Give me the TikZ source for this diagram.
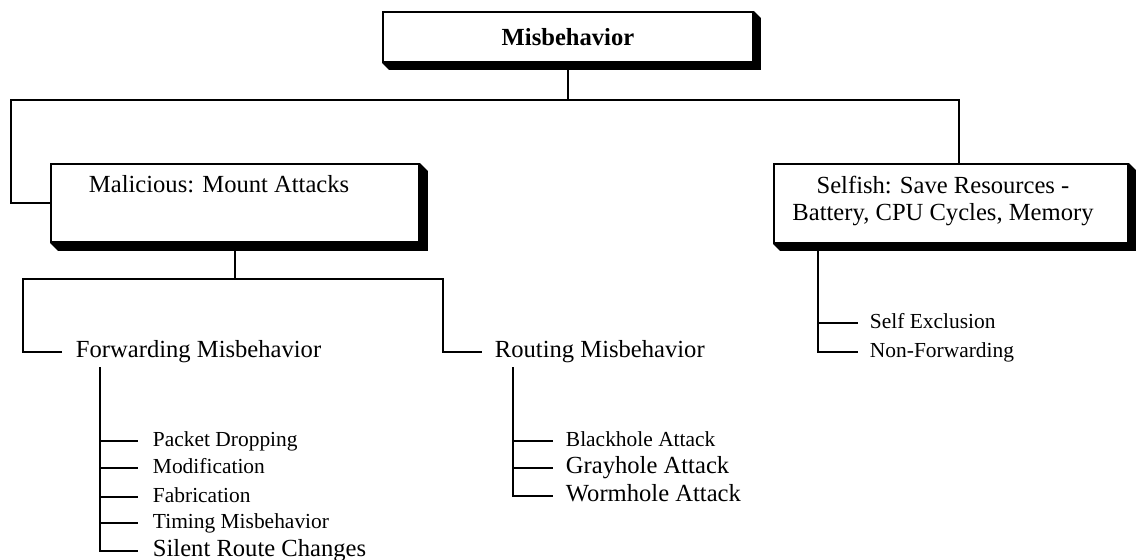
\documentclass[tikz,border=0pt]{standalone}
\usepackage{fontspec}
\setmainfont{Liberation Serif}
\usetikzlibrary{positioning}

\begin{document}
\begin{tikzpicture}[x=0.02cm, y=-0.02cm, line width=1.1pt]
    \tikzstyle{box} = [draw, fill=white, inner sep=0pt]
    \tikzstyle{lbl} = [inner sep=0pt, anchor=west, text height=1.5ex, text depth=.25ex,
                       font=\fontsize{14}{16}\selectfont]
    \tikzstyle{leaf} = [lbl, font=\fontsize{12.2}{14}\selectfont]
    \useasboundingbox (0,0) rectangle (1136,559);

    % boxes
    \node[box, minimum width=7.4cm, minimum height=1cm,
          font=\fontsize{14}{16}\selectfont\bfseries] (misb) at (568,37) {Misbehavior};
    \node[box, anchor=north west, minimum width=7.36cm, minimum height=1.56cm] (mal) at (50,163) {};
    \node[box, anchor=north west, minimum width=7.08cm, minimum height=1.58cm] (self) at (773,163) {};
    \foreach \b/\s in {misb/7, mal/8, self/7}
      \fill (\b.north east) -- ++(\s,\s) -- ([shift={(\s,\s)}]\b.south east)
        -- ([shift={(\s,\s)}]\b.south west) -- (\b.south west) -- (\b.south east) -- cycle;
    \node[lbl] (maltxt) at (88,187) {Malicious: Mount Attacks};
    \node[inner sep=0pt, align=center, font=\fontsize{14}{15.4}\selectfont] (selftxt) at (943,201)
      {Selfish: Save Resources -\\Battery, CPU Cycles, Memory};

    % top level
    \coordinate (hubL) at (11,100);
    \coordinate (hubR) at (959,100);
    \draw (misb.south) -- (misb.south |- hubL);
    \draw (mal.west) -| (hubL) -- (hubR) -- (hubR |- self.north);

    % malicious
    \node[lbl] (fwd) at (75,352) {Forwarding Misbehavior};
    \node[lbl] (rout) at (494,352) {Routing Misbehavior};
    \coordinate (malout) at (235,241);
    \coordinate (forkL) at (23,279);
    \coordinate (forkR) at (443,279);
    \draw (malout) -- (malout |- forkL);
    \draw ([xshift=-0.26cm]fwd.west) -| (forkL) -- (forkR) |- ([xshift=-0.24cm]rout.west);

    \coordinate (fwdtrunk) at (100,367);
    \foreach \y/\t/\n/\s in {441/Packet Dropping/pd/leaf, 468/Modification/mod/leaf,
        497/Fabrication/fab/leaf, 523/Timing Misbehavior/tim/leaf,
        551/Silent Route Changes/src/lbl} {
      \node[\s] (\n) at (152,\y) {\t};
      \draw (fwdtrunk) |- ([xshift=-0.28cm]\n.west);
    }

    \coordinate (routtrunk) at (513,367);
    \foreach \y/\t/\n/\s in {441/Blackhole Attack/bh/leaf, 468/Grayhole Attack/gh/lbl,
        496/Wormhole Attack/wh/lbl} {
      \node[\s] (\n) at (565,\y) {\t};
      \draw (routtrunk) |- ([xshift=-0.24cm]\n.west);
    }

    % selfish
    \coordinate (selfout) at (818,242);
    \foreach \y/\t/\n in {323/Self Exclusion/sex, 352/Non-Forwarding/nfw} {
      \node[leaf] (\n) at (869,\y) {\t};
      \draw (selfout) |- ([xshift=-0.22cm]\n.west);
    }
\end{tikzpicture}
\end{document}
